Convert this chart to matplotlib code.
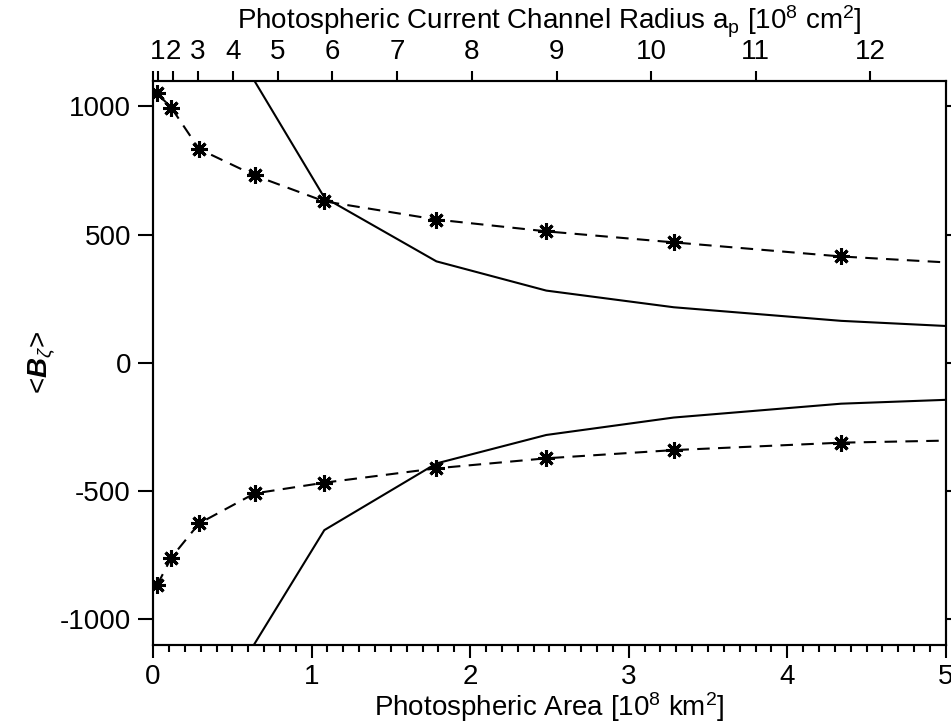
import numpy as np
import matplotlib.pyplot as plt
from matplotlib.ticker import MultipleLocator

plt.rcParams['font.family'] = ['Liberation Sans', 'DejaVu Sans']
plt.rcParams['axes.unicode_minus'] = False
plt.rcParams['mathtext.fontset'] = 'custom'
plt.rcParams['mathtext.rm'] = 'Liberation Sans'
plt.rcParams['mathtext.it'] = 'Liberation Sans:italic'
plt.rcParams['mathtext.bf'] = 'Liberation Sans:bold'
plt.rcParams['mathtext.bfit'] = 'Liberation Sans:bold:italic'

# area sampled by the model runs [10^8 km^2]
area_model = [0.025, 0.115, 0.29, 0.64, 1.08, 1.787, 2.48, 3.284, 4.34, 5.0]
b_pos_model = [1051, 995, 834, 731, 630, 559, 513, 470, 415, 392]
b_neg_model = [-867, -759, -626, -509, -467, -411, -372, -340, -311, -303]

# flux-conserving reference curves
area_flux = [0.64, 1.08, 1.787, 2.48, 3.284, 4.34, 5.0]
b_pos_flux = [1099, 645, 396, 282, 217, 164, 144]
b_neg_flux = [-1095, -652, -392, -281, -213, -159, -144]

# top axis: current channel radius [10^8 cm]
radius_ticks = [0, 1, 2, 3, 4, 5, 6, 7, 8, 9, 10, 11, 12]
radius_labels = [''] + [str(r) for r in radius_ticks[1:]]

FS = 20

fig = plt.figure(figsize=(9.51, 7.28), dpi=100)
ax = fig.add_axes([0.161, 0.114, 0.8335, 0.775])

n_marked = len(area_model) - 1
for b in (b_pos_model, b_neg_model):
    ax.plot(area_model, b, 'k--', lw=1.5, dashes=(6, 4),
            marker=(8, 2, 0), ms=12, mew=2.2, markevery=list(range(n_marked)))
ax.plot(area_flux, b_pos_flux, 'k-', lw=1.5)
ax.plot(area_flux, b_neg_flux, 'k-', lw=1.5)

ax.set_xlim(0, 5)
ax.set_ylim(-1100, 1100)
ax.xaxis.set_major_locator(MultipleLocator(1))
ax.xaxis.set_minor_locator(MultipleLocator(0.1))
ax.yaxis.set_major_locator(MultipleLocator(500))
ax.yaxis.set_minor_locator(MultipleLocator(100))
ax.tick_params(which='both', direction='out', width=1.5, labelsize=FS,
               right=True, top=False)
ax.tick_params(axis='y', which='major', length=11, pad=5)
ax.tick_params(axis='y', which='minor', length=5.5)
ax.tick_params(axis='x', which='major', length=9, pad=5)
ax.tick_params(axis='x', which='minor', length=5)
for s in ax.spines.values():
    s.set_linewidth(1.5)

ax.set_xlabel(r'Photospheric Area [10$^8$ km$^2$]', fontsize=FS, labelpad=0)
ax.set_ylabel(r'<$\mathbfit{B}_{\zeta}$>', fontsize=FS, labelpad=2)

top = ax.twiny()
top.set_xlim(ax.get_xlim())
top.set_xticks([np.pi * r**2 / 100 for r in radius_ticks])
top.set_xticklabels(radius_labels)
top.tick_params(direction='out', length=7.5, width=1.5, labelsize=FS, pad=4)
top.minorticks_off()
top.set_xlabel(r'Photospheric Current Channel Radius a$_\mathrm{p}$ [10$^8$ cm$^2$]',
               fontsize=FS, labelpad=7)
for s in top.spines.values():
    s.set_linewidth(1.5)

fig.savefig('out.png', dpi=100)
